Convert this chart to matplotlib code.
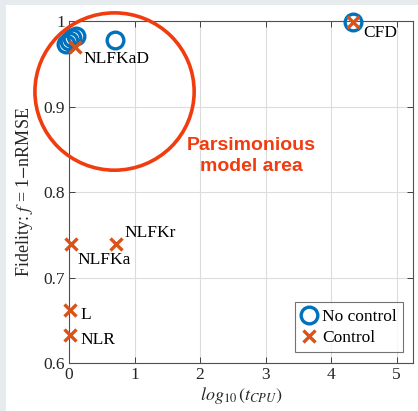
import matplotlib
matplotlib.use("Agg")
import matplotlib.pyplot as plt
from matplotlib.patches import Ellipse, Rectangle

plt.rcParams["font.family"] = ["Liberation Serif", "DejaVu Serif"]
plt.rcParams["mathtext.fontset"] = "stix"

# log10 of CPU time vs fidelity, models without control
nc_x = [-0.04, 0.0, 0.04, 0.10, 0.70, 4.34]
nc_y = [0.973, 0.977, 0.980, 0.983, 0.978, 0.999]

# models with control
ctrl_x = [0.09, 4.34, 0.03, 0.72, 0.015, 0.015]
ctrl_y = [0.970, 0.999, 0.739, 0.739, 0.662, 0.633]
ctrl_names = ["NLFKaD", "CFD", "NLFKa", "NLFKr", "L", "NLR"]
name_offsets = [(9, -12), (10, -11), (6, -16), (8, 11), (10, -5), (10, -5)]

xticks = [0, 1, 2, 3, 4, 5]
yticks = [0.6, 0.7, 0.8, 0.9, 1.0]

blue = "#0072BD"
orange = "#D95319"
red = "#F03C0F"
ink = "#262626"

fig = plt.figure(figsize=(4.18, 4.11), dpi=100)
fig.patch.set_facecolor("#E6ECED")
fig.add_artist(Rectangle((6 / 418, 0), 1, 1 - 5 / 411, transform=fig.transFigure,
                         facecolor="white", edgecolor="none", zorder=-10))

ax = fig.add_axes([69 / 418, 48 / 411, 344 / 418, 342 / 411])
ax.set_xlim(0, 5.25)
ax.set_ylim(0.6, 1.0)
ax.set_xticks(xticks)
ax.set_yticks(yticks)
ax.set_yticklabels(["0.6", "0.7", "0.8", "0.9", "1"])
ax.grid(True, color="#DCDCDC", linewidth=0.8)
ax.set_axisbelow(True)
ax.tick_params(direction="in", top=True, right=True, length=4, width=0.6,
               labelsize=12.5, colors=ink, pad=3)
ax.tick_params(axis="x", pad=3)
for s in ax.spines.values():
    s.set_color("#505050")
    s.set_linewidth(0.8)

ax.plot(nc_x, nc_y, "o", ms=12, mfc="none", mec=blue, mew=2.4,
        clip_on=False, label="No control", zorder=3)
ax.plot(ctrl_x, ctrl_y, "x", ms=9, mec=orange, mew=2.4,
        clip_on=False, label="Control", zorder=4)

for x, y, name, off in zip(ctrl_x, ctrl_y, ctrl_names, name_offsets):
    ax.annotate(name, (x, y), xytext=off, textcoords="offset pixels",
                ha="left", va="center", fontsize=12.5, color="black", zorder=5)

# highlight region of cheap, accurate models
ax.add_patch(Ellipse((0.695, 0.9175), 2.43, 0.184, fill=False, edgecolor=red,
                     linewidth=2.6, clip_on=False, zorder=6))
ax.text(2.78, 0.842, "Parsimonious\nmodel area", ha="center", va="center",
        fontsize=14, fontweight="bold", color=red, family="Liberation Sans",
        linespacing=1.3)

ax.set_xlabel(r"$log_{10}\,(t_{CPU})$", fontsize=13, color=ink, labelpad=1)
ax.set_ylabel(r"Fidelity: $f$ = 1$-$nRMSE", fontsize=13, color=ink, labelpad=6)

leg = ax.legend(loc="lower right", bbox_to_anchor=(0.971, 0.032), borderaxespad=0,
                fontsize=12.5, frameon=True, fancybox=False, handlelength=0.9,
                handletextpad=0.3, borderpad=0.35, labelspacing=0.3)
leg.get_frame().set_edgecolor("#505050")
leg.get_frame().set_linewidth(0.8)

fig.savefig("out.png", dpi=100)
